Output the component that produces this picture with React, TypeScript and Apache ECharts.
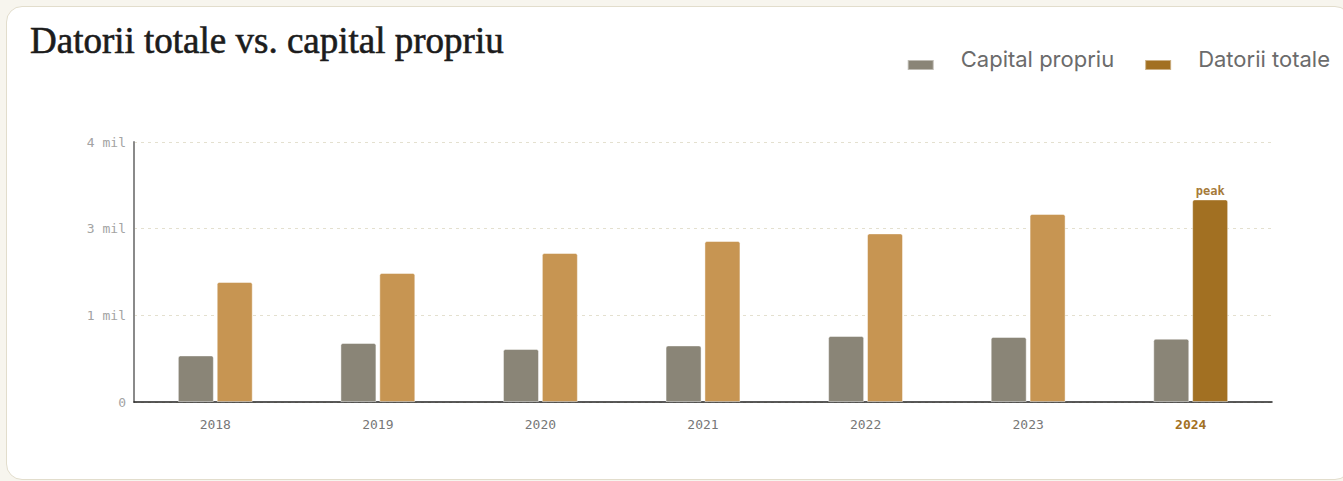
import React, { useEffect, useRef } from "react";
import * as echarts from "echarts";

const years = ["2018", "2019", "2020", "2021", "2022", "2023", "2024"];
const capitalPropriu = [0.672, 0.851, 0.764, 0.816, 0.952, 0.938, 0.913];
const datoriiTotale = [1.731, 1.861, 2.149, 2.322, 2.432, 2.712, 2.922];
const yTicks = { min: 0, max: 3.75, interval: 1.25 };
const peakIndex = 6;

const C_CAP = "#8a8577";
const C_DAT = "#c79552";
const C_PEAK = "#a27022";

// legend swatch sits lower than the text centre: invisible anchor at top, bar at bottom
const LEGEND_ICON = "path://M0,0L0.01,0L0.01,0.01Z M0,13L26,13L26,23L0,23Z";

export default function App() {
  const ref = useRef<HTMLDivElement>(null);
  useEffect(() => {
    if (!ref.current) return;
    const chart = echarts.init(ref.current, undefined, { renderer: "svg" });
    const mono = "'DejaVu Sans Mono', monospace";
    chart.setOption({
      animation: false,
      title: {
        text: "Datorii totale vs. capital propriu",
        left: 25,
        top: 17,
        textStyle: {
          fontFamily: "'Liberation Serif', serif",
          fontSize: 37,
          fontWeight: "normal",
          color: "#1c1c1c",
          textBorderColor: "#1c1c1c",
          textBorderWidth: 0.6,
        },
      },
      legend: {
        right: 8,
        top: 41,
        itemWidth: 26,
        itemHeight: 23,
        itemGap: 30,
        icon: LEGEND_ICON,
        textStyle: {
          fontFamily: "Inter, 'Noto Sans', sans-serif",
          fontSize: 22,
          color: "#6b6b6b",
          padding: [0, 0, 0, 22],
        },
        data: [
          { name: "Capital propriu", itemStyle: { color: C_CAP } },
          { name: "Datorii totale", itemStyle: { color: C_PEAK } },
        ],
      },
      grid: { left: 134, right: 71, top: 142, bottom: 79 },
      xAxis: {
        type: "category",
        data: years,
        axisLine: { lineStyle: { color: "#222", width: 1.5 } },
        axisTick: { show: false },
        axisLabel: {
          margin: 16,
          formatter: (v: string, i: number) =>
            i === peakIndex ? `{p|${v}}` : `{n|${v}}`,
          rich: {
            n: { fontFamily: mono, fontSize: 13, color: "#777" },
            p: { fontFamily: mono, fontSize: 13, color: C_PEAK, fontWeight: "bold" },
          },
        },
      },
      yAxis: {
        type: "value",
        min: yTicks.min,
        max: yTicks.max,
        interval: yTicks.interval,
        axisLine: { show: true, lineStyle: { color: "#8a8a8a", width: 2 } },
        axisTick: { show: false },
        axisLabel: {
          margin: 8,
          fontFamily: mono,
          fontSize: 13,
          color: "#a3a3a3",
          formatter: (v: number) => (v === 0 ? "0" : `${Math.round(v)} mil`),
        },
        splitLine: {
          lineStyle: { color: "#e4e0cf", type: [3, 4], width: 1 },
        },
      },
      series: [
        {
          name: "Capital propriu",
          type: "bar",
          barWidth: 36,
          barGap: "8%",
          itemStyle: {
            color: C_CAP,
            borderRadius: [2, 2, 0, 0],
            borderColor: "rgba(255,255,255,0.45)",
            borderWidth: 1,
          },
          data: capitalPropriu,
        },
        {
          name: "Datorii totale",
          type: "bar",
          barWidth: 36,
          itemStyle: {
            color: C_PEAK,
            borderRadius: [2, 2, 0, 0],
            borderColor: "rgba(255,255,255,0.45)",
            borderWidth: 1,
          },
          data: datoriiTotale.map((v, i) =>
            i === peakIndex
              ? {
                  value: v,
                  itemStyle: { color: C_PEAK },
                  label: {
                    show: true,
                    position: "top",
                    distance: 2,
                    formatter: "peak",
                    fontFamily: mono,
                    fontSize: 12,
                    fontWeight: "bold",
                    color: "#a67b3a",
                  },
                }
              : { value: v, itemStyle: { color: C_DAT } }
          ),
        },
      ],
    });
    return () => chart.dispose();
  }, []);

  return (
    <div
      style={{
        position: "fixed",
        inset: 0,
        width: 1343,
        height: 481,
        background: "#f7f5ee",
        overflow: "hidden",
      }}
    >
      <div
        style={{
          position: "absolute",
          left: 6,
          top: 6,
          width: 1345,
          height: 474,
          background: "#ffffff",
          border: "1px solid #e2ddcc",
          borderRadius: 16,
          boxSizing: "border-box",
        }}
      />
      <div
        ref={ref}
        style={{ position: "absolute", left: 0, top: 0, width: 1343, height: 481 }}
      />
    </div>
  );
}
